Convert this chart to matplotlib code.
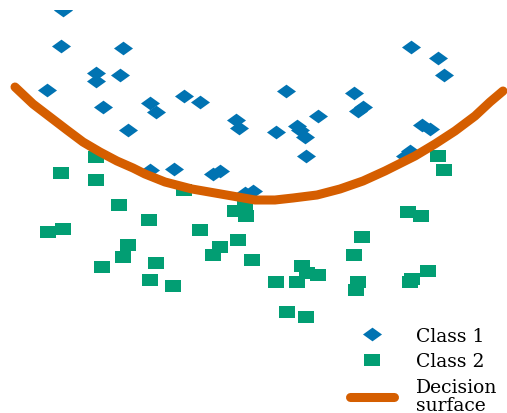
import matplotlib
matplotlib.use("Agg")
import matplotlib.pyplot as plt
from matplotlib.lines import Line2D

# Class 1 (diamonds)
class1_x = [63, 61, 123, 96, 96, 120, 47, 103, 150, 156, 184, 200, 236, 239, 128,
            150, 174, 213, 220, 245, 253,
            411, 438, 444, 286, 354, 358, 363, 318, 276, 297, 300, 305, 306, 422, 430, 410, 405]
class1_y = [11, 47, 49, 74, 82, 76, 91, 108, 104, 113, 97, 103, 121, 129, 131,
            171, 170, 175, 172, 194, 192,
            48, 59, 76, 92, 94, 112, 108, 117, 133, 127, 131, 138, 157, 126, 130, 152, 157]

# Class 2 (squares)
class2_x = [96, 61, 96, 119, 149, 184, 235, 246, 245, 200, 48, 63, 128, 123, 102, 156,
            220, 213, 238, 252, 150, 173,
            438, 444, 408, 421, 362, 354, 302, 318, 307, 276, 297, 358, 356, 412, 410, 428, 287, 306]
class2_y = [158, 174, 181, 206, 221, 191, 212, 217, 208, 231, 233, 230, 246, 258, 268, 264,
            248, 256, 241, 261, 281, 287,
            157, 171, 213, 217, 238, 256, 267, 276, 274, 283, 283, 283, 291, 280, 283, 272, 313, 318]

# Decision surface
curve_x = [15, 33, 50, 67, 83, 100, 117, 133, 145, 165, 192, 215, 238, 255, 275, 293,
           317, 340, 363, 385, 415, 435, 455, 475, 490, 503]
curve_y = [88, 105, 118, 131, 143, 153, 162, 169, 175, 183, 190, 194, 198, 201, 201, 199,
           196, 190, 182, 172, 157, 145, 132, 117, 103, 92]

labels = ["Class 1", "Class 2", "Decision\nsurface"]

BLUE = "#0173B2"
GREEN = "#029E73"
ORANGE = "#D55E00"

diamond = [(-1, 0), (0, 0.72), (1, 0), (0, -0.72), (-1, 0)]
rect = [(-1, -0.7), (1, -0.7), (1, 0.7), (-1, 0.7), (-1, -0.7)]

W, H = 507, 414
fig = plt.figure(figsize=(W / 100, H / 100), dpi=100)
top = 11
ax = fig.add_axes([0, 0, 1, (H - top) / H])
ax.set_xlim(0, W)
ax.set_ylim(H, top)
ax.axis("off")

ax.plot(class1_x, class1_y, linestyle="none", marker=diamond, markersize=13.7,
        color=BLUE, markeredgewidth=0, zorder=2)
ax.plot(class2_x, class2_y, linestyle="none", marker=rect, markersize=11.5,
        color=GREEN, markeredgewidth=0, zorder=2)
ax.plot(curve_x, curve_y, color=ORANGE, linewidth=6.5, solid_capstyle="round",
        solid_joinstyle="round", zorder=3)

handles = [
    Line2D([], [], linestyle="none", marker=diamond, markersize=13.7, color=BLUE, markeredgewidth=0),
    Line2D([], [], linestyle="none", marker=rect, markersize=11.5, color=GREEN, markeredgewidth=0),
    Line2D([], [], color=ORANGE, linewidth=6.5, solid_capstyle="round"),
]
leg = ax.legend(handles, labels, loc="upper left",
                bbox_to_anchor=(349.5 / W, (H - 328) / (H - top)),
                bbox_transform=ax.transAxes, frameon=False,
                prop={"family": "DejaVu Serif", "size": 13.5},
                handlelength=2.35, handletextpad=1.2, labelspacing=0.4,
                borderpad=0, borderaxespad=0)
for t in leg.get_texts():
    t.set_linespacing(1.03)
fig.savefig("out.png", dpi=100)
